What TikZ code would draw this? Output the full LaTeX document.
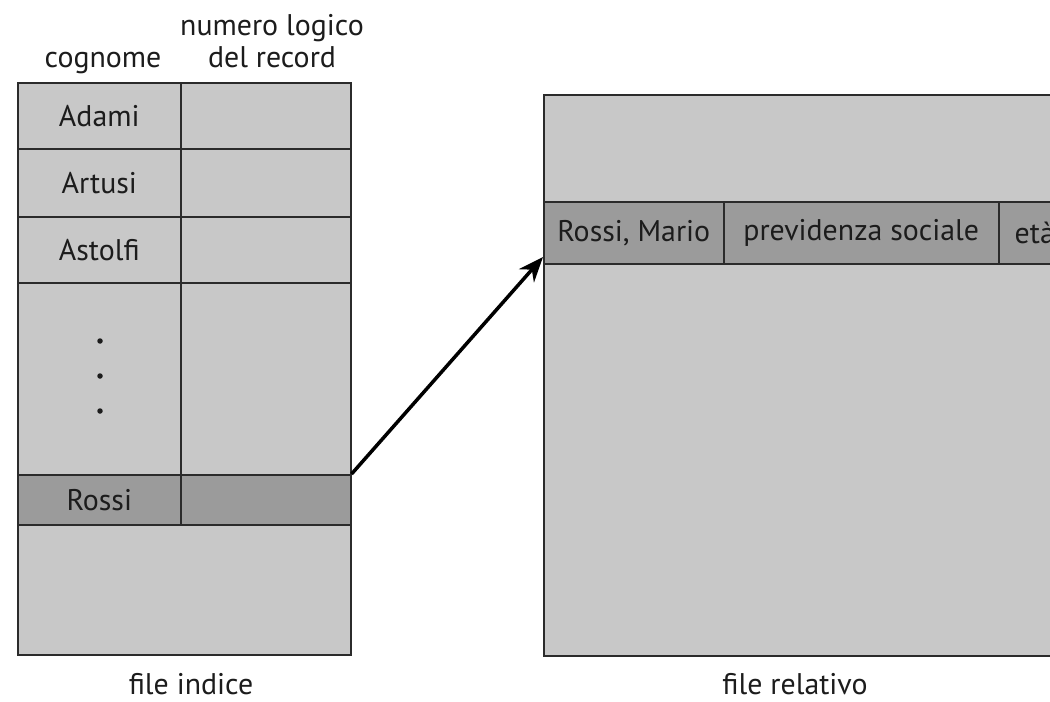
\documentclass[tikz,border=0pt]{standalone}
\usepackage{fontspec}
\setmainfont{PT Sans}
\usetikzlibrary{arrows.meta}
\definecolor{cellgray}{HTML}{C8C8C8}
\definecolor{rowgray}{HTML}{9B9B9B}
\definecolor{edgegray}{HTML}{2B2B2B}
\definecolor{inkgray}{HTML}{1C1C1C}
\tikzset{
  cell/.style={draw=edgegray,line width=0.9pt,fill=cellgray,anchor=north west,
    inner sep=0pt,text=inkgray,font=\fontsize{17}{18.5}\selectfont},
  keyrow/.style={cell,fill=rowgray},
  lbl/.style={text=inkgray,font=\fontsize{17}{18.5}\selectfont,inner sep=0pt,align=center}
}
\begin{document}
\begin{tikzpicture}[x=0.02cm,y=-0.02cm]
\clip (0,0) rectangle (1050,702);
\fill[white] (0,0) rectangle (1050,702);
% file indice
\node[cell,minimum width=3.26cm,minimum height=1.32cm] (adami) at (17,82) {Adami};
\node[cell,minimum width=3.4cm,minimum height=1.32cm] (adaminum) at (180,82) {};
\node[cell,minimum width=3.26cm,minimum height=1.36cm] (artusi) at (17,148) {Artusi};
\node[cell,minimum width=3.4cm,minimum height=1.36cm] (artusinum) at (180,148) {};
\node[cell,minimum width=3.26cm,minimum height=1.32cm] (astolfi) at (17,216) {Astolfi};
\node[cell,minimum width=3.4cm,minimum height=1.32cm] (astolfinum) at (180,216) {};
\node[cell,minimum width=3.26cm,minimum height=3.84cm] (dots) at (17,282) {};
\node[cell,minimum width=3.4cm,minimum height=3.84cm] (dotsnum) at (180,282) {};
\node[keyrow,minimum width=3.26cm,minimum height=1.0cm] (rossi) at (17,474) {Rossi};
\node[keyrow,minimum width=3.4cm,minimum height=1.0cm] (rossinum) at (180,474) {};
\node[cell,minimum width=6.66cm,minimum height=2.6cm] (freeidx) at (17,524) {};
\foreach \yy in {341,376,411}
  \fill[inkgray] (100,\yy) circle (0.055cm);
\node[lbl,anchor=base] (hcogn) at (103,68) {cognome};
\node[lbl,anchor=north] (hnum) at (272,14) {numero logico\\del record};
\node[lbl,anchor=base] (capidx) at (191,694) {file indice};
% file relativo
\node[cell,minimum width=10.54cm,minimum height=2.14cm] (reltop) at (543,94) {};
\node[keyrow,minimum width=3.6cm,minimum height=1.24cm] (relname) at (543,201) {Rossi, Mario};
\node[keyrow,minimum width=5.5cm,minimum height=1.24cm] (relprev) at (723,201) {previdenza sociale};
\node[keyrow,minimum width=1.44cm,minimum height=1.24cm] (releta) at (998,201) {età};
\node[cell,minimum width=10.54cm,minimum height=7.84cm] (relbot) at (543,263) {};
\node[lbl,anchor=base] (caprel) at (795,694) {file relativo};
% puntatore
\coordinate (tip) at (543,257);
\draw[line width=2pt,-{Stealth[length=0.5cm,width=0.4cm]}] (rossinum.north east) -- (tip);
\end{tikzpicture}
\end{document}
